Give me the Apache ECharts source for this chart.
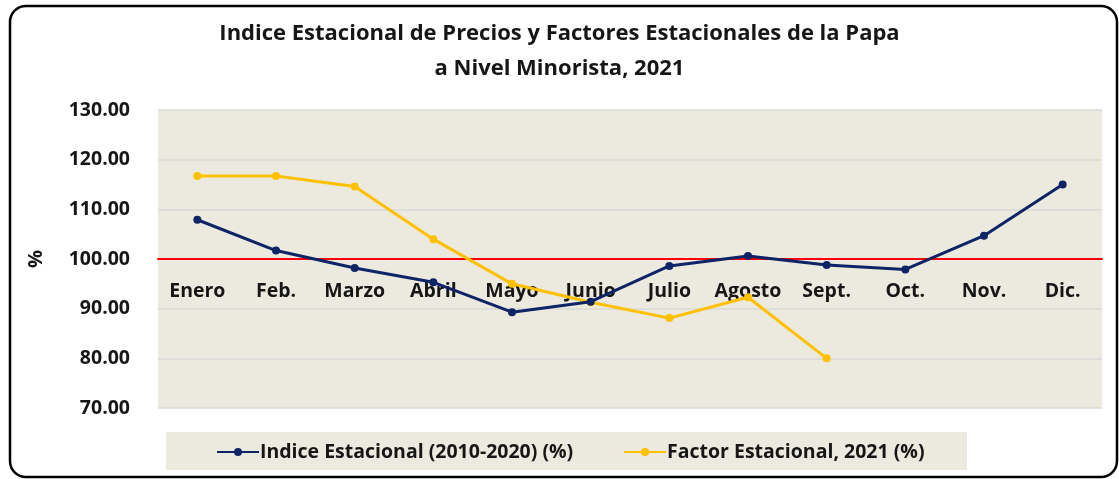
<!DOCTYPE html>
<html>
<head>
<meta charset="utf-8">
<script src="https://cdn.jsdelivr.net/npm/echarts@6/dist/echarts.min.js"></script>
<style>
    html, body { margin: 0; padding: 0; background: #ffffff; }
    #chart { width: 1119px; height: 479px; }
</style>
</head>
<body>
<div id="chart"></div>
<script>
    const months = ['Enero', 'Feb.', 'Marzo', 'Abril', 'Mayo', 'Junio', 'Julio', 'Agosto', 'Sept.', 'Oct.', 'Nov.', 'Dic.'];
    const indiceEstacional = [107.9, 101.7, 98.2, 95.3, 89.3, 91.4, 98.6, 100.6, 98.8, 97.9, 104.7, 115.0];
    const factorEstacional = [116.7, 116.7, 114.6, 104.0, 95.0, 91.3, 88.1, 92.3, 80.0, null, null, null];
    const yTicks = [70, 80, 90, 100, 110, 120, 130];

    const font = '"Open Sans", Lato, sans-serif';
    const navy = '#0f2466';
    const gold = '#ffc000';
    const panel = '#ece9df';
    const ink = '#161616';

    const chart = echarts.init(document.getElementById('chart'));
    chart.setOption({
        animation: false,
        textStyle: {fontFamily: font},
        title: {
            text: 'Indice Estacional de Precios y Factores Estacionales de la Papa\na Nivel Minorista, 2021',
            left: 'center',
            top: 11,
            textStyle: {
                fontFamily: font,
                fontSize: 22,
                fontWeight: 'bold',
                color: ink,
                lineHeight: 35
            }
        },
        graphic: [{
            type: 'rect',
            shape: {x: 10, y: 6, width: 1107, height: 471, r: 16},
            style: {fill: 'none', stroke: '#000000', lineWidth: 2.5},
            z: -10
        }, {
            type: 'rect',
            shape: {x: 166, y: 432, width: 801, height: 38},
            style: {fill: panel},
            z: -10
        }],
        grid: {
            left: 158,
            right: 17,
            top: 110,
            bottom: 71,
            show: true,
            backgroundColor: panel,
            borderWidth: 0
        },
        legend: [{
            data: ['Indice Estacional (2010-2020) (%)'],
            left: 216,
            top: 442,
            padding: 0,
            itemWidth: 42,
            itemHeight: 10,
            textStyle: {fontFamily: font, fontSize: 19.5, fontWeight: 'bold', color: ink, padding: [0, 0, 0, -4]}
        }, {
            data: ['Factor Estacional, 2021 (%)'],
            left: 623,
            top: 442,
            padding: 0,
            itemWidth: 42,
            itemHeight: 10,
            textStyle: {fontFamily: font, fontSize: 19.5, fontWeight: 'bold', color: ink, padding: [0, 0, 0, -4]}
        }],
        xAxis: {
            type: 'category',
            data: months,
            offset: -149,
            axisLine: {lineStyle: {color: '#ff0000', width: 2}},
            axisTick: {show: false},
            axisLabel: {
                interval: 0,
                margin: 22,
                fontFamily: font,
                fontSize: 19.5,
                fontWeight: 'bold',
                color: ink
            }
        },
        yAxis: {
            type: 'value',
            min: yTicks[0],
            max: yTicks[yTicks.length - 1],
            interval: 10,
            name: '%',
            nameLocation: 'middle',
            nameRotate: 90,
            nameGap: 112,
            nameTextStyle: {fontFamily: font, fontSize: 20, fontWeight: 'bold', color: ink},
            axisLine: {show: false},
            axisTick: {show: false},
            axisLabel: {
                margin: 28,
                fontFamily: font,
                fontSize: 19.5,
                fontWeight: 'bold',
                color: ink,
                formatter: v => v.toFixed(2)
            },
            splitLine: {lineStyle: {color: '#d9d9d9', width: 1.5}}
        },
        series: [{
            name: 'Indice Estacional (2010-2020) (%)',
            type: 'line',
            data: indiceEstacional,
            symbol: 'circle',
            symbolSize: 8,
            lineStyle: {color: navy, width: 3},
            itemStyle: {color: navy},
            z: 3
        }, {
            name: 'Factor Estacional, 2021 (%)',
            type: 'line',
            data: factorEstacional,
            symbol: 'circle',
            symbolSize: 8,
            lineStyle: {color: gold, width: 3},
            itemStyle: {color: gold},
            z: 2
        }]
    });
</script>
</body>
</html>
